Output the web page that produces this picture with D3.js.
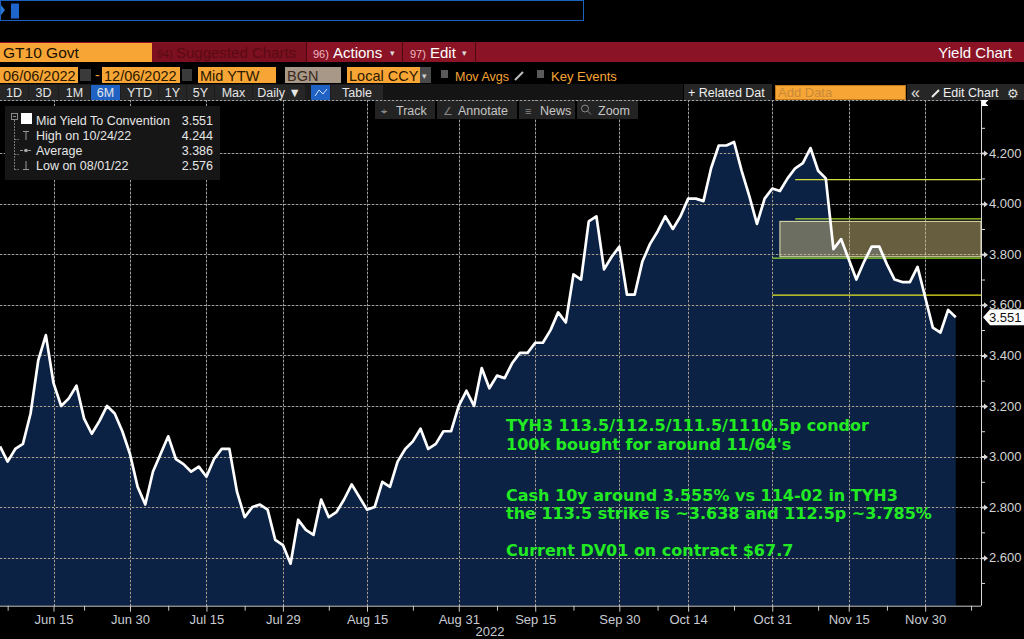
<!DOCTYPE html>
<html>
<head>
<meta charset="utf-8">
<script src="https://cdn.jsdelivr.net/npm/d3@7"></script>
<style>
body { margin:0; background:#000; }
svg { display:block; font-family:"Liberation Sans", Arial, sans-serif; }
</style>
</head>
<body>
<svg id="chart" width="1024" height="639"></svg>
<script>
// GT10 Govt mid yield, one value per trading day from 06/06/2022
var startDate = "2022-06-06";
var holidays = ["2022-06-20","2022-07-04","2022-09-05","2022-10-10","2022-11-11","2022-11-24"];
var yields = [
 3.04,2.98,3.03,3.05,3.17,3.38,3.48,3.29,3.20,3.23,
 3.28,3.15,3.09,3.14,3.20,3.17,3.10,3.01,2.88,2.81,
 2.94,3.01,3.08,2.99,2.97,2.94,2.96,2.92,2.99,3.03,
 3.03,2.86,2.76,2.80,2.81,2.79,2.67,2.65,2.576,2.75,
 2.71,2.69,2.83,2.76,2.78,2.83,2.89,2.84,2.79,2.80,
 2.90,2.88,2.98,3.03,3.06,3.11,3.03,3.05,3.10,3.10,
 3.20,3.26,3.20,3.35,3.27,3.32,3.31,3.37,3.41,3.41,
 3.45,3.45,3.50,3.57,3.53,3.72,3.70,3.93,3.95,3.74,
 3.79,3.83,3.64,3.64,3.77,3.84,3.89,3.95,3.90,3.95,
 4.02,4.02,4.01,4.14,4.23,4.23,4.244,4.13,4.03,3.92,
 4.02,4.06,4.05,4.10,4.14,4.16,4.22,4.13,4.10,3.82,
 3.86,3.78,3.70,3.77,3.83,3.83,3.76,3.70,3.69,3.69,
 3.75,3.63,3.51,3.49,3.58,3.551
];
var majorTickDates = ["2022-06-15","2022-06-30","2022-07-15","2022-07-29","2022-08-15","2022-08-31",
                      "2022-09-15","2022-09-30","2022-10-14","2022-10-31","2022-11-15","2022-11-30"];
var majorTickLabels = ["Jun 15","Jun 30","Jul 15","Jul 29","Aug 15","Aug 31",
                       "Sep 15","Sep 30","Oct 14","Oct 31","Nov 15","Nov 30"];
var minorTickDates = ["2022-06-07","2022-06-22","2022-07-08","2022-07-22","2022-08-08","2022-08-23",
                      "2022-09-08","2022-09-22","2022-10-07","2022-10-24","2022-11-08","2022-11-22","2022-12-08"];
var yTicks = [2.6,2.8,3.0,3.2,3.4,3.6,3.8,4.0,4.2];
var yMinorTicks = [2.5,2.7,2.9,3.1,3.3,3.5,3.7,3.9,4.1,4.3];
var lastValue = 3.551;

// drawn strike levels and the condor zone
var strikeLevels = [4.095, 3.94, 3.785, 3.638];
var strikeFrom = ["2022-11-03","2022-11-03","2022-10-31","2022-10-31"];
var condorZone = [3.93, 3.79];
var condorFrom = "2022-11-01";

var legendNames = ["Mid Yield To Convention","High on 10/24/22","Average","Low on 08/01/22"];
var legendValues = ["3.551","4.244","3.386","2.576"];

var noteLines = [
  "TYH3 113.5/112.5/111.5/1110.5p condor",
  "100k bought for around 11/64's",
  "Cash 10y around 3.555% vs 114-02 in TYH3",
  "the 113.5 strike is ~3.638 and 112.5p ~3.785%",
  "Current DV01 on contract $67.7"
];

// trading-day calendar (weekends and bond market holidays skipped)
var parseDay = d3.timeParse("%Y-%m-%d"), fmtDay = d3.timeFormat("%Y-%m-%d");
var tradingDays = [];
var day = parseDay(startDate);
while (tradingDays.length < yields.length + 5) {
    var wd = day.getDay();
    if (wd != 0 && wd != 6 && holidays.indexOf(fmtDay(day)) < 0)
        tradingDays.push(fmtDay(day));
    day = d3.timeDay.offset(day, 1);
}
function dayIndex(s) { return tradingDays.indexOf(s); }

var svg = d3.select("#chart");
var plotTop = 100, plotBottom = 605.7, plotRight = 981;

var x = d3.scaleLinear().domain([0, 128.3]).range([0, plotRight]);
var y = d3.scaleLinear().domain([2.41, 4.41]).range([plotBottom, plotTop]);

svg.append("rect").attr("width",1024).attr("height",639).attr("fill","#000");

// area + grid + line
svg.append("path")
   .datum(yields)
   .attr("fill","#0b2244")
   .attr("d", d3.area().x(function(d,i){return x(i);}).y0(plotBottom).y1(function(d){return y(d);}));

// dotted grid: a faint solid base with brighter dots on top
var gridY = yTicks.map(function(d){ return Math.round(y(d)); });
var gridX = majorTickDates.map(function(d){ return Math.round(x(dayIndex(d))); });
var grid = svg.append("g").attr("class","grid").attr("shape-rendering","crispEdges");
[["#34373c",null],["#a0a0a0","2,2"]].forEach(function(st) {
    var g = grid.append("g");
    g.selectAll("rect.hg").data(gridY).enter().append("line")
        .attr("x1",0).attr("x2",plotRight)
        .attr("y1",function(d){return d+0.5;}).attr("y2",function(d){return d+0.5;});
    g.selectAll("rect.vg").data(gridX).enter().append("line")
        .attr("y1",plotTop).attr("y2",plotBottom)
        .attr("x1",function(d){return d+0.5;}).attr("x2",function(d){return d+0.5;});
    g.append("line").attr("x1",0).attr("x2",plotRight).attr("y1",plotTop+0.5).attr("y2",plotTop+0.5);
    g.selectAll("line").attr("stroke",st[0]).attr("stroke-width",1);
    if (st[1]) g.selectAll("line").attr("stroke-dasharray",st[1]);
});

// condor zone and strike lines
svg.append("rect")
   .attr("x", x(dayIndex(condorFrom)))
   .attr("y", y(condorZone[0]))
   .attr("width", plotRight - x(dayIndex(condorFrom)))
   .attr("height", y(condorZone[1]) - y(condorZone[0]))
   .attr("fill","rgba(205,185,125,0.5)")
   .attr("stroke","#e8e6b0").attr("stroke-width",1);

var strikeColors = ["#d8e040","#b0dc30","#8cd42c","#e8e820"];
svg.selectAll(".strike").data(strikeLevels).enter().append("line")
   .attr("x1",function(d,i){return x(dayIndex(strikeFrom[i]));})
   .attr("x2",plotRight)
   .attr("y1",function(d){return y(d);}).attr("y2",function(d){return y(d);})
   .attr("stroke",function(d,i){return strikeColors[i];})
   .attr("stroke-width",1.3);

svg.append("path")
   .datum(yields)
   .attr("fill","none")
   .attr("stroke","#fff")
   .attr("stroke-width",2.7)
   .attr("stroke-linejoin","round")
   .attr("d", d3.line().x(function(d,i){return x(i);}).y(function(d){return y(d);}));

// x axis
var xAxis = svg.append("g").attr("transform","translate(0,"+plotBottom+")")
   .call(d3.axisBottom(x)
          .tickValues(majorTickDates.map(dayIndex))
          .tickFormat(function(d,i){return majorTickLabels[i];})
          .tickSize(6).tickPadding(3));
xAxis.select(".domain").attr("stroke","#c8c8c8").attr("d","M0,0.5H"+plotRight);
xAxis.selectAll(".tick line").attr("stroke","#c8c8c8");
xAxis.selectAll("text").attr("fill","#c8ccd2").attr("font-size",13).attr("font-family","Liberation Sans, Arial, sans-serif");
var xMinor = svg.append("g").attr("transform","translate(0,"+plotBottom+")")
   .call(d3.axisBottom(x).tickValues(minorTickDates.map(dayIndex)).tickFormat("").tickSize(5));
xMinor.select(".domain").remove();
xMinor.selectAll(".tick line").attr("stroke","#c8c8c8");
svg.append("text").attr("x",490).attr("y",636).attr("text-anchor","middle")
   .attr("fill","#c8ccd2").attr("font-size",13).text("2022");

// y axis on the right
var yAxis = svg.append("g").attr("transform","translate("+plotRight+",0)")
   .call(d3.axisRight(y).tickValues(yTicks).tickFormat(d3.format(".3f")).tickSize(0).tickPadding(8));
yAxis.select(".domain").attr("stroke","#d8d8d8").attr("d","M0.5,"+plotTop+"V"+plotBottom);
yAxis.selectAll("text").attr("fill","#d4d4d4").attr("font-size",13).attr("font-family","Liberation Sans, Arial, sans-serif");
yAxis.selectAll(".tick").append("path").attr("d","M0,-1H3V-3L7,0L3,3V1H0Z").attr("fill","#d8d8d8");
var yMinor = svg.append("g").attr("transform","translate("+plotRight+",0)")
   .call(d3.axisRight(y).tickValues(yMinorTicks).tickFormat("").tickSize(4));
yMinor.select(".domain").remove();
yMinor.selectAll(".tick line").attr("stroke","#d8d8d8");
svg.append("path").attr("d","M"+(plotRight+0.5)+","+plotTop+"h7l-3,3l3,3h-7z").attr("fill","#fff");

// current value flag
var ly = y(lastValue);
svg.append("path")
   .attr("d","M983,"+ly+"L990,"+(ly-8)+"H1024V"+(ly+8)+"H990Z")
   .attr("fill","#fff");
svg.append("text").attr("x",989).attr("y",ly+5).attr("font-size",13).attr("fill","#111").text(d3.format(".3f")(lastValue));

// note text
var noteY = [431, 450, 500.5, 518.5, 555.5];
svg.selectAll(".note").data(noteLines).enter().append("text")
   .attr("x",506).attr("y",function(d,i){return noteY[i];})
   .attr("fill","#22ea22")
   .attr("font-family","DejaVu Sans, Verdana, sans-serif")
   .attr("font-weight","bold").attr("font-size",16)
   .text(function(d){return d;});

// legend box
var leg = svg.append("g");
leg.append("rect").attr("x",5).attr("y",106).attr("width",215).attr("height",74).attr("fill","#161616");
leg.append("path").attr("d","M14.5,120V170M14.5,139.5H19M14.5,154.5H19M14.5,169.5H19")
   .attr("stroke","#777").attr("stroke-dasharray","2,1").attr("fill","none");
leg.append("rect").attr("x",11.5).attr("y",113.5).attr("width",6).attr("height",6).attr("fill","none").attr("stroke","#888");
leg.append("path").attr("d","M13,116.5H16").attr("stroke","#888");
leg.append("rect").attr("x",21).attr("y",113).attr("width",11).attr("height",11).attr("fill","#fff");
leg.append("path").attr("d","M23,131.5H29M26,131.5V140").attr("stroke","#999").attr("fill","none");
leg.append("path").attr("d","M20,150.5H32").attr("stroke","#999").attr("stroke-dasharray","3,1");
leg.append("circle").attr("cx",26).attr("cy",150.5).attr("r",1.8).attr("fill","#aaa");
leg.append("path").attr("d","M26,161V169.5M23,169.5H29").attr("stroke","#999").attr("fill","none");
leg.selectAll(".ln").data(legendNames).enter().append("text")
   .attr("x",36).attr("y",function(d,i){return 125+i*15;})
   .attr("fill","#e6e6e6").attr("font-size",12.5).text(function(d){return d;});
leg.selectAll(".lv").data(legendValues).enter().append("text")
   .attr("x",213).attr("y",function(d,i){return 125+i*15;}).attr("text-anchor","end")
   .attr("fill","#e6e6e6").attr("font-size",12.5).text(function(d){return d;});

// ---- terminal chrome ----
function box(x0,y0,w,h,fill) {
    return svg.append("rect").attr("x",x0).attr("y",y0).attr("width",w).attr("height",h).attr("fill",fill);
}
function label(x0,y0,t,size,color,anchor) {
    return svg.append("text").attr("x",x0).attr("y",y0).attr("font-size",size)
              .attr("fill",color).attr("text-anchor",anchor || "start").text(t);
}

// command line
svg.append("rect").attr("x",0.5).attr("y",0.5).attr("width",583).attr("height",20)
   .attr("fill","none").attr("stroke","#1a62c0");
svg.append("path").attr("d","M1,5L5,10L1,15Z").attr("fill","#2a7ad8");
box(11,3.5,8,15,"#1e66cc");

// red title bar
box(0,42,1024,20,"#8a1426");
box(0,43,152,19,"#f7a535");
label(3,58,"GT10 Govt",15.5,"#1a1000");
box(152,43,154,19,"#7c1020");
label(157,58,"94)",11,"#5a0a14");
label(176,58,"Suggested Charts",15,"#5a0a14");
box(306,42,1,20,"#4a0810"); box(402,42,1,20,"#4a0810"); box(475,42,1,20,"#4a0810");
label(313,58,"96)",11,"#f0b8c0");
label(333,58,"Actions",15,"#fff");
label(390,56,"\u25BE",9,"#ddd");
label(410,58,"97)",11,"#f0b8c0");
label(430,58,"Edit",15,"#fff");
label(462,56,"\u25BE",9,"#ddd");
label(1012,58,"Yield Chart",15,"#fff","end");

// date / settings row
box(0,67,78,16,"#f7a535"); label(3,81,"06/06/2022",14.5,"#2a1800");
box(80,69,11,12,"#3a3a3a");
label(95,80,"-",14,"#f7a535");
box(102,67,78,16,"#f7a535"); label(104,81,"12/06/2022",14.5,"#2a1800");
box(182,69,10,12,"#3a3a3a");
box(198,67,78,16,"#f7a535"); label(200,81,"Mid YTW",14.5,"#2a1800");
box(285,67,56,16,"#a89888"); label(287,81,"BGN",14.5,"#3a2a20");
box(347,67,73,16,"#f7a535"); label(349,81,"Local CCY",14.5,"#2a1800");
box(420,67,11,16,"#4a4a4a"); label(422,79,"\u25BE",9,"#ccc");
box(441,70,7,8,"#5a5a5a");
label(455,81,"Mov Avgs",12.5,"#f7a535");
svg.append("path").attr("d","M515,80L523,72").attr("stroke","#bbb").attr("stroke-width",2.2);
box(537,70,7,8,"#5a5a5a");
label(551,81,"Key Events",13,"#f7a535");

// period buttons
box(0,84,383,16,"#1c1c1c");
box(383,84,300,16,"#141414");
var periods = [["1D",0,28],["3D",29,58],["1M",59,90],["6M",91,120],["YTD",121,158],["1Y",159,186],
               ["5Y",187,214],["Max",215,252],["Daily \u25BC",253,305],["",311,330],["Table",331,383]];
periods.forEach(function(p,i) {
    box(p[1],85,p[2]-p[1],15,(i==3 || i==9) ? "#1f62c4" : "#262626");
    if (p[0]) label((p[1]+p[2])/2,97,p[0],12.5,"#e6e6e6","middle");
});
svg.append("path").attr("d","M315,96L319,90L323,94L327,89").attr("stroke","#cfe0ff").attr("fill","none");
box(684,84,88,16,"#262626"); label(688,97,"+ Related Dat",12.5,"#f0f0f0");
box(775,85,131,15,"#f7a535"); svg.append("rect").attr("x",775.5).attr("y",85.5).attr("width",130).attr("height",14).attr("fill","none").attr("stroke","#c07818");
label(778,97,"Add Data",13,"#c88a3a");
box(907,84,117,16,"#262626");
label(911,98,"\u00AB",16,"#e0e0e0");
svg.append("path").attr("d","M932,97L939,90").attr("stroke","#eee").attr("stroke-width",2);
label(943,97,"Edit Chart",12.5,"#f0f0f0");
svg.append("text").attr("x",1007).attr("y",98).attr("font-family","DejaVu Sans").attr("font-size",13).attr("fill","#ddd").text("\u2699");

// chart tool buttons
var tools = [["Track",375,435,"\u2316"],["Annotate",437,517,"\u2220"],["News",519,575,"\u2261"],["Zoom",577,638,""]];
tools.forEach(function(t) {
    box(t[1],101,t[2]-t[1],18,"#232323");
    label(t[1]+6,114.5,t[3],11,"#888");
    label(t[1]+21,114.5,t[0],12.5,"#c6c6c6");
});
svg.append("circle").attr("cx",585).attr("cy",108.5).attr("r",3.5).attr("fill","none").attr("stroke","#888");
svg.append("path").attr("d","M587.5,111L591,114.5").attr("stroke","#888");
</script>
</body>
</html>
